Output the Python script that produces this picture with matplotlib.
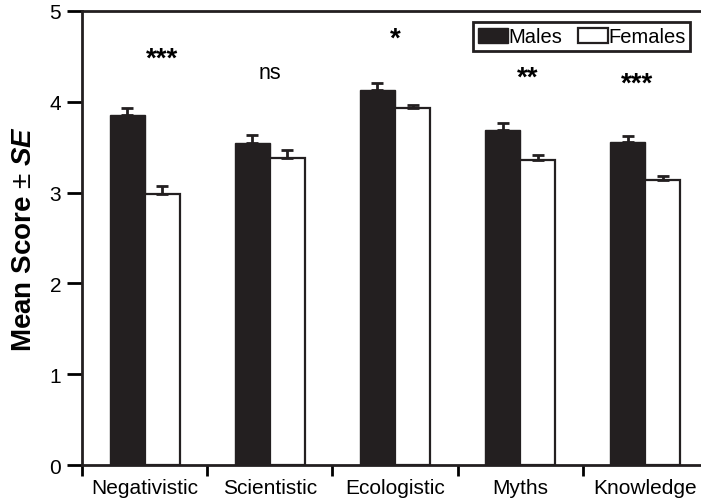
import numpy as np
import matplotlib
matplotlib.use("Agg")
import matplotlib.pyplot as plt

plt.rcParams['font.family'] = ['Liberation Sans', 'DejaVu Sans']
plt.rcParams['mathtext.fontset'] = 'custom'
plt.rcParams['mathtext.rm'] = 'Liberation Sans'
plt.rcParams['mathtext.bf'] = 'Liberation Sans:bold:italic'

# data
categories = ["Negativistic", "Scientistic", "Ecologistic", "Myths", "Knowledge"]
males = [3.85, 3.55, 4.13, 3.69, 3.56]
males_se = [0.08, 0.08, 0.08, 0.08, 0.06]
females = [2.98, 3.38, 3.93, 3.36, 3.14]
females_se = [0.09, 0.09, 0.04, 0.05, 0.04]
signif = ["***", "ns", "*", "**", "***"]
signif_x = [0.14, 1.0, 2.0, 3.06, 3.93]
signif_y = [4.40, 4.26, 4.62, 4.19, 4.12]

dark = '#231f20'
x = np.arange(len(categories))
w = 0.28

fig = plt.figure(figsize=(7.01, 5.02), dpi=100)
ax = fig.add_axes([0.117, 0.0717, 0.893, 0.9044])

ax.bar(x - w / 2, males, w, color=dark, edgecolor=dark, linewidth=1, label='Males', zorder=2)
ax.bar(x + w / 2, females, w, color='white', edgecolor=dark, linewidth=1.6, label='Females', zorder=2)

ax.errorbar(x - w / 2, males, yerr=[np.zeros(len(x)), males_se], fmt='none',
            ecolor=dark, elinewidth=2, capsize=4.5, capthick=2, zorder=3)
ax.errorbar(x + w / 2, females, yerr=[np.zeros(len(x)), females_se], fmt='none',
            ecolor=dark, elinewidth=2, capsize=4.5, capthick=2, zorder=3)

for sx, sy, s in zip(signif_x, signif_y, signif):
    if s == 'ns':
        ax.text(sx, sy, s, ha='center', va='baseline', fontsize=15.5)
    else:
        ax.text(sx, sy, s, ha='center', va='baseline', fontsize=20, fontweight='bold')

ax.set_xlim(-0.5, len(categories) - 0.5)
ax.set_ylim(0, 5)
ax.set_yticks([0, 1, 2, 3, 4, 5])
ax.set_xticks(x, categories)
ax.set_xticks(np.arange(len(categories) + 1) - 0.5, minor=True)
ax.tick_params(axis='x', which='major', length=0, pad=9, labelsize=15)
ax.tick_params(axis='x', which='minor', length=8, width=2, direction='out')
ax.tick_params(axis='y', length=11, width=2, direction='out', pad=4, labelsize=15)

for sp in ax.spines.values():
    sp.set_linewidth(2)
    sp.set_color(dark)

ax.set_ylabel(r'Mean Score $\pm$ $\mathbf{SE}$', fontsize=20, fontweight='bold')
ax.yaxis.set_label_coords(-0.072, 0.5)

leg = ax.legend(loc='upper right', bbox_to_anchor=(0.972, 0.975), ncol=2,
                fontsize=14.5, handlelength=1.5, handleheight=0.8, handletextpad=0.0,
                columnspacing=0.8, borderpad=0.25, borderaxespad=0, fancybox=False,
                framealpha=1, edgecolor=dark)
leg.get_frame().set_linewidth(2)

fig.savefig("out.png", dpi=100)
